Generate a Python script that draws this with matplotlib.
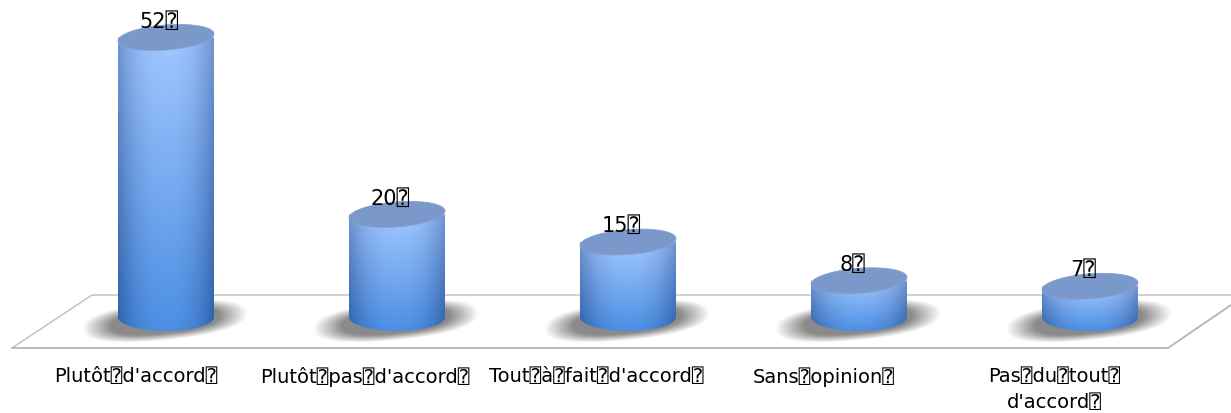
import numpy as np
import matplotlib
matplotlib.use("Agg")
import matplotlib.pyplot as plt
from matplotlib.patches import PathPatch, Polygon
from matplotlib.path import Path

plt.rcParams["font.family"] = ["DejaVu Sans", "DejaVu Sans Mono"]

categories = ["Plutôt⍰d'accord⍰", "Plutôt⍰pas⍰d'accord⍰", "Tout⍰à⍰fait⍰d'accord⍰",
              "Sans⍰opinion⍰", "Pas⍰du⍰tout⍰\nd'accord⍰"]
values = [52, 20, 15, 8, 7]
value_labels = ["52⍰", "20⍰", "15⍰", "8⍰", "7⍰"]

W, H = 1231, 413
STEP = 231.0     # px between bars
X0 = 166.0       # px of first bar centre
Y0 = 325.0       # px of value 0
SCALE = 5.53     # px per unit


def px_x(p):
    return (p - X0) / STEP


def px_y(p):
    return (Y0 - p) / SCALE


fig = plt.figure(figsize=(W / 100, H / 100), dpi=100)
ax = fig.add_axes([0, 0, 1, 1])
ax.set_xlim(px_x(0), px_x(W))
ax.set_ylim(px_y(H), px_y(0))
ax.axis("off")

# plancher
ax.plot([px_x(W), px_x(92), px_x(12)], [px_y(295), px_y(295), px_y(348)],
        color="#bdbdbd", lw=1.0, zorder=1)
ax.plot([px_x(12), px_x(1168), px_x(W)], [px_y(348), px_y(348), px_y(305)],
        color="#b4b4b4", lw=1.3, zorder=1)

half_w = 48 / STEP
base_px = 317
semi_px = 14

# ombre
sx, sy = np.meshgrid(np.linspace(-1, 1, 240), np.linspace(-1, 1, 100))
d = (np.abs(sx) ** 2.4 + np.abs(sy + 0.38 * sx) ** 2.4 * 1.2) ** (1 / 2.4)
shadow = np.zeros(d.shape + (4,))
shadow[..., :3] = 0.52
shadow[..., 3] = np.clip((1 - d) / 0.35, 0, 1) * 0.95

for i, v in enumerate(values):
    ax.imshow(shadow, extent=[i - 84 / STEP, i + 82 / STEP, px_y(342), px_y(300)],
              aspect="auto", zorder=2, interpolation="bilinear")

# cylindres
for i, v in enumerate(values):
    t = np.linspace(0, np.pi, 60)
    base_y = px_y(base_px)
    semi_y = semi_px / SCALE
    bx = i + half_w * np.cos(t)
    by = base_y - semi_y * np.sin(t)
    verts = [(i - half_w, v), (i + half_w, v)] + list(zip(bx, by)) + [(i - half_w, v)]
    codes = [Path.MOVETO] + [Path.LINETO] * (len(verts) - 2) + [Path.CLOSEPOLY]
    clip = PathPatch(Path(verts, codes), fc="none", ec="none", transform=ax.transData)
    ax.add_patch(clip)

    gx, gy = np.meshgrid(np.linspace(-1, 1, 120), np.linspace(0, 1, 120))
    edge = np.abs(gx) ** 2.4
    top = np.array([0.63, 0.78, 1.00])
    bottom = np.array([0.30, 0.56, 0.89])
    side_top = np.array([0.44, 0.58, 0.82])
    side_bottom = np.array([0.18, 0.38, 0.67])
    img = np.zeros(gx.shape + (3,))
    for c in range(3):
        centre = top[c] + (bottom[c] - top[c]) * gy
        side = side_top[c] + (side_bottom[c] - side_top[c]) * gy
        img[..., c] = centre * (1 - edge) + side * edge
    im = ax.imshow(img, extent=[i - half_w, i + half_w, base_y - semi_y, v],
                   aspect="auto", zorder=3, interpolation="bilinear")
    im.set_clip_path(clip)

    # dessus incliné, le bord droit un peu plus haut
    a = np.linspace(0, 2 * np.pi, 90)
    ex = i + half_w * np.cos(a)
    ey = v + 12.5 / SCALE * np.sin(a) + 3.5 / SCALE * np.cos(a)
    ax.add_patch(Polygon(np.column_stack([ex, ey]), closed=True,
                         fc="#7a98c9", ec="#86a2d0", lw=0.6, zorder=4))
    ax.annotate(value_labels[i], (i, v), xytext=(-5, 11.5), textcoords="offset points",
                ha="center", va="center", fontsize=15, color="black", zorder=5)

label_x = [136, 365, 596, 824, 1054]
for i, lab in enumerate(categories):
    if "\n" in lab:
        ax.text(px_x(label_x[i]), px_y(367), lab, ha="center", va="top",
                fontsize=14, color="black", linespacing=1.45)
    else:
        ax.text(px_x(label_x[i]), px_y(377), lab, ha="center", va="center",
                fontsize=14, color="black")

fig.savefig("out.png", dpi=100)
